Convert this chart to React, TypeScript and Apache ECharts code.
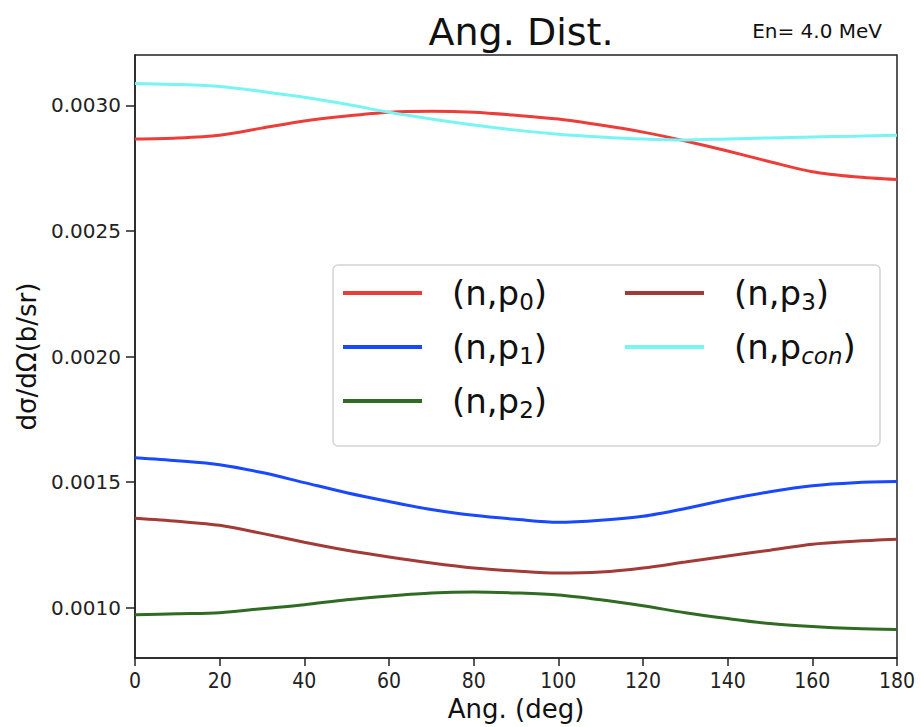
import React, { useEffect, useRef } from "react";
import * as echarts from "echarts";

const angles = [0, 10, 20, 30, 40, 50, 60, 70, 80, 90, 100, 110, 120, 130, 140, 150, 160, 170, 180];
const p0 = [0.002866, 0.00287, 0.002881, 0.002909, 0.002937, 0.002957, 0.002972, 0.002976, 0.002972, 0.00296, 0.002945, 0.002921, 0.002893, 0.002858, 0.002818, 0.002775, 0.002735, 0.002715, 0.002704];
const p1 = [0.001597, 0.001585, 0.001569, 0.001538, 0.001498, 0.001458, 0.001423, 0.001391, 0.001368, 0.001352, 0.00134, 0.001348, 0.001364, 0.001395, 0.001431, 0.001462, 0.001486, 0.001498, 0.001502];
const p2 = [0.000972, 0.000976, 0.00098, 0.000996, 0.001012, 0.001032, 0.001047, 0.001059, 0.001063, 0.001059, 0.001051, 0.001032, 0.001008, 0.00098, 0.000957, 0.000937, 0.000925, 0.000917, 0.000913];
const p3 = [0.001356, 0.001344, 0.001328, 0.001296, 0.001261, 0.001229, 0.001202, 0.001178, 0.001158, 0.001146, 0.001138, 0.001142, 0.001158, 0.001182, 0.001206, 0.001229, 0.001253, 0.001265, 0.001273];
const pcon = [0.003087, 0.003083, 0.003075, 0.003055, 0.003032, 0.003004, 0.002972, 0.002945, 0.002921, 0.002901, 0.002885, 0.002874, 0.002866, 0.002862, 0.002866, 0.00287, 0.002874, 0.002877, 0.002881];

const yTicks = [0.001, 0.0015, 0.002, 0.0025, 0.003];
const xTicks = [0, 20, 40, 60, 80, 100, 120, 140, 160, 180];

const seriesNames = ["p0", "p1", "p2", "p3", "pcon"];
const seriesData = [p0, p1, p2, p3, pcon];
const seriesColors = ["#ec3d3a", "#1848ff", "#2f6b22", "#a23a38", "#78f4f4"];
const subs: Record<string, string> = { p0: "0", p1: "1", p2: "2", p3: "3", pcon: "con" };

const FONT = "DejaVu Sans";

export default function App() {
  const ref = useRef<HTMLDivElement>(null);
  useEffect(() => {
    if (!ref.current) return;
    const chart = echarts.init(ref.current, null, { renderer: "svg" });
    const legendText = {
      fontFamily: FONT,
      padding: [0, 0, 0, 25],
      rich: {
        a: { fontFamily: FONT, fontSize: 34, lineHeight: 40, color: "#111" },
        s: { fontFamily: FONT, fontSize: 23, lineHeight: 14, verticalAlign: "bottom", color: "#111" },
        si: { fontFamily: FONT, fontSize: 23, fontStyle: "italic", lineHeight: 14, verticalAlign: "bottom", color: "#111" },
      },
    };
    const fmt = (name: string) => {
      const sub = subs[name];
      const tag = sub === "con" ? "si" : "s";
      return `{a|(n,p}{${tag}|${sub}}{a|)}`;
    };
    chart.setOption({
      animation: false,
      backgroundColor: "#fff",
      title: [
        {
          text: "Ang. Dist.",
          left: 516,
          textAlign: "center",
          top: 8,
          textStyle: { fontFamily: FONT, fontSize: 38, fontWeight: "normal", color: "#111" },
        },
        {
          text: "En= 4.0 MeV",
          right: 34,
          top: 16,
          textStyle: { fontFamily: FONT, fontSize: 20, fontWeight: "normal", color: "#111" },
        },
      ],
      grid: {
        left: 135,
        right: 24,
        top: 55,
        bottom: 68,
        show: true,
        borderColor: "#222",
        borderWidth: 1.5,
        backgroundColor: "transparent",
      },
      graphic: [
        {
          type: "rect",
          z: 3,
          shape: { x: 333, y: 265, width: 547, height: 181, r: 5 },
          style: { fill: "rgba(255,255,255,0.85)", stroke: "#d4d4d4", lineWidth: 1.5 },
        },
      ],
      legend: [
        {
          data: ["p0", "p1", "p2"],
          orient: "vertical",
          left: 343,
          top: 276,
          icon: "rect",
          itemWidth: 79,
          itemHeight: 4,
          itemGap: 17,
          padding: 0,
          formatter: fmt,
          textStyle: legendText,
          z: 5,
        },
        {
          data: ["p3", "pcon"],
          orient: "vertical",
          left: 625,
          top: 276,
          icon: "rect",
          itemWidth: 79,
          itemHeight: 4,
          itemGap: 17,
          padding: 0,
          formatter: fmt,
          textStyle: legendText,
          z: 5,
        },
      ],
      xAxis: {
        type: "value",
        min: 0,
        max: 180,
        interval: 20,
        name: "Ang. (deg)",
        nameLocation: "middle",
        nameGap: 38,
        nameTextStyle: { fontFamily: FONT, fontSize: 26, color: "#111" },
        axisLine: { show: true, lineStyle: { color: "#222", width: 1.5 } },
        axisTick: { show: true, length: 8, lineStyle: { color: "#222", width: 1.5 }, customValues: xTicks },
        axisLabel: {
          fontFamily: "DejaVu Sans Condensed",
          fontSize: 21,
          color: "#222",
          margin: 12,
          customValues: xTicks,
        },
        splitLine: { show: false },
      },
      yAxis: {
        type: "value",
        min: 0.0008,
        max: 0.0032,
        name: "dσ/dΩ(b/sr)",
        nameLocation: "middle",
        nameGap: 95,
        nameTextStyle: { fontFamily: FONT, fontSize: 26, color: "#111" },
        axisLine: { show: true, lineStyle: { color: "#222", width: 1.5 } },
        axisTick: { show: true, length: 9, lineStyle: { color: "#222", width: 1.5 }, customValues: yTicks },
        axisLabel: {
          fontFamily: FONT,
          fontSize: 20,
          color: "#222",
          margin: 14,
          customValues: yTicks,
          formatter: (v: number) => v.toFixed(4),
        },
        splitLine: { show: false },
      },
      series: seriesNames.map((name, i) => ({
        name,
        type: "line",
        data: angles.map((a, j) => [a, seriesData[i][j]]),
        smooth: 0.3,
        showSymbol: false,
        symbol: "none",
        color: seriesColors[i],
        itemStyle: { color: seriesColors[i] },
        lineStyle: { color: seriesColors[i], width: 3 },
        z: 2,
      })),
    });
    return () => chart.dispose();
  }, []);
  return (
    <div
      ref={ref}
      style={{ position: "fixed", left: 0, top: 0, width: 921, height: 727 }}
    />
  );
}
